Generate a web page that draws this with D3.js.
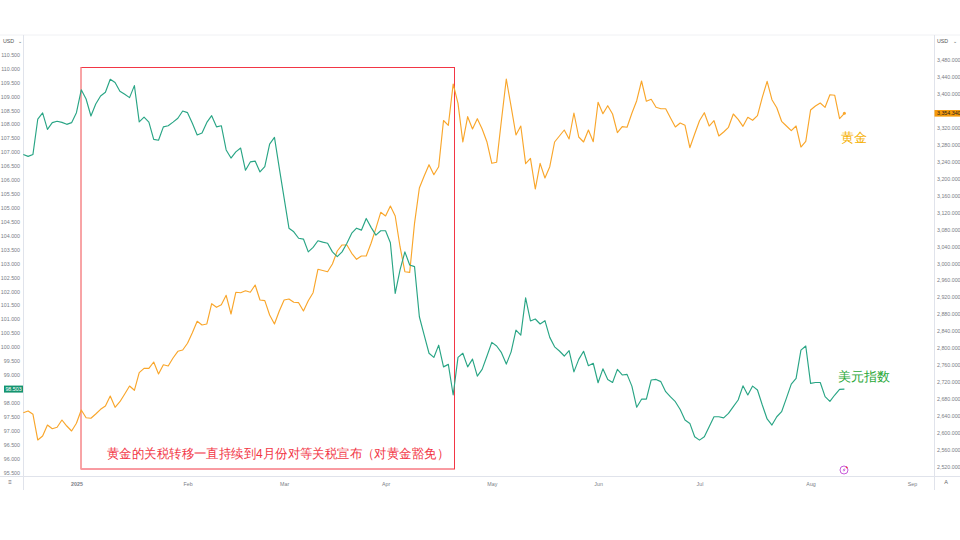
<!DOCTYPE html>
<html><head><meta charset="utf-8">
<script src="https://cdn.jsdelivr.net/npm/d3@7"></script>
<style>
html,body{margin:0;padding:0;background:#fff;}
svg{display:block;}
text{font-family:"Liberation Sans",Arial,sans-serif;}
</style></head>
<body>
<svg id="chart" width="960" height="540"></svg>
<script>
// ---------- data ----------
const startDate = "2024-12-17"; // first trading day shown
const dxyValues = [106.93,106.86,106.93,108.20,108.42,107.83,108.07,108.12,108.08,108.01,108.07,108.43,109.25,108.92,108.31,108.74,109.03,109.16,109.63,109.51,109.20,109.09,108.97,109.40,108.10,108.27,108.09,107.47,107.44,107.92,107.96,108.09,108.23,108.49,108.43,108.05,107.63,107.70,108.08,108.32,107.92,107.96,107.09,106.80,107.02,107.16,106.36,106.66,106.69,106.30,106.49,107.30,107.54,106.44,105.36,104.28,104.15,103.92,103.89,103.43,103.59,103.83,103.78,103.74,103.43,103.26,103.43,103.74,104.10,104.28,104.21,104.63,104.31,104.03,104.19,104.19,103.76,101.94,102.78,103.43,102.96,102.90,101.10,100.44,99.79,99.64,100.08,99.30,99.39,98.29,99.64,99.79,99.30,99.58,98.97,99.21,99.69,100.18,100.05,99.81,99.40,99.84,100.62,100.44,101.78,100.95,101.02,100.84,100.96,100.36,100.02,99.87,99.69,99.88,99.12,99.57,99.86,99.34,99.43,98.73,99.23,98.85,98.74,99.21,99.01,99.03,98.61,97.85,98.14,98.14,98.83,98.85,98.77,98.41,98.22,98.05,97.77,97.39,97.27,96.79,96.67,96.79,97.15,97.51,97.51,97.47,97.63,97.87,98.11,98.62,98.29,98.61,98.47,97.93,97.43,97.21,97.51,97.69,98.18,98.68,98.89,99.90,100.05,98.71,98.74,98.74,98.23,98.06,98.29,98.49,98.503];
const goldValues = [2648.7,2652.7,2644.9,2584.3,2593.8,2619.7,2611.0,2614.3,2631.5,2617.3,2605.6,2623.7,2655.0,2636.9,2635.5,2645.6,2656.7,2664.5,2688.0,2661.4,2674.6,2692.8,2711.6,2701.5,2743.0,2753.3,2753.3,2768.2,2739.9,2761.8,2758.8,2777.6,2793.4,2796.5,2812.3,2837.2,2864.1,2855.4,2857.8,2905.6,2897.1,2903.2,2925.4,2881.3,2932.5,2931.5,2936.2,2932.5,2949.7,2914.3,2912.7,2879.0,2857.8,2888.4,2914.3,2916.7,2908.9,2908.0,2888.4,2912.7,2931.5,2986.7,2983.9,2981.0,2999.2,3029.8,3044.0,3044.0,3024.4,3010.2,3018.0,3018.0,3048.0,3083.3,3121.0,3112.3,3135.9,3112.3,3039.9,2981.0,2979.6,3095.1,3178.3,3206.6,3233.2,3209.7,3228.5,3337.4,3326.1,3423.4,3377.9,3286.7,3346.4,3317.4,3341.6,3317.4,3286.7,3236.5,3238.9,3338.6,3435.2,3369.9,3303.2,3324.4,3235.6,3248.3,3175.9,3236.5,3201.9,3228.5,3286.7,3300.9,3315.0,3293.8,3355.1,3298.5,3286.7,3315.0,3287.4,3380.3,3353.4,3372.3,3352.7,3308.6,3322.8,3321.4,3354.4,3384.1,3430.5,3382.7,3387.4,3368.5,3365.2,3365.2,3343.3,3322.1,3331.5,3326.1,3273.3,3305.6,3336.9,3355.8,3324.4,3336.9,3300.9,3310.3,3321.4,3352.7,3340.2,3323.7,3344.9,3337.9,3348.7,3392.1,3429.8,3386.4,3367.6,3335.5,3324.4,3313.4,3324.4,3274.9,3288.4,3362.1,3371.6,3378.6,3368.5,3398.2,3396.8,3341.6,3354.34];
const leftTicks = d3.range(95.5, 110.51, 0.5);
const rightTicks = d3.range(2520, 3481, 40);
const axisEnd = "2025-09-05";
const seriesNames = {gold: "黄金", dxy: "美元指数"};
const noteText = "黄金的关税转移一直持续到4月份对等关税宣布（对黄金豁免）";
const boxRange = ["2025-01-02", "2025-04-21"];

// ---------- trading dates (weekdays) ----------
const parse = d3.timeParse("%Y-%m-%d");
const dates = [];
for (let d = parse(startDate); d <= parse(axisEnd); d = d3.timeDay.offset(d, 1)) {
  const w = d.getDay();
  if (w !== 0 && w !== 6) dates.push(d);
}
const idxOf = s => { const t = parse(s); return dates.findIndex(d => d >= t); };

// ---------- layout ----------
const svg = d3.select("#chart");
const W = 960, H = 540;
const plotL = 23.5, plotR = 934.5, plotT = 35, plotB = 476;
const colGold = "#f9a62b", colDxy = "#29a585", axisCol = "#e0e3eb", txtCol = "#7a7d86";

svg.append("rect").attr("width", W).attr("height", H).attr("fill", "#fff");

const x = d3.scaleLinear().domain([0, dxyValues.length - 1]).range([23.3, 844.4]);
const yL = d3.scaleLinear().domain([95.5, 110.5]).range([472.7, 55]);
const yR = d3.scaleLinear().domain([2520, 3480]).range([467.3, 60]);

// frame lines
svg.append("line").attr("x1", 0).attr("x2", W).attr("y1", plotT).attr("y2", plotT).attr("stroke", "#f0f1f4");
svg.append("line").attr("x1", plotL).attr("x2", plotL).attr("y1", plotT).attr("y2", 490).attr("stroke", axisCol);
svg.append("line").attr("x1", plotR).attr("x2", plotR).attr("y1", plotT).attr("y2", 490).attr("stroke", axisCol);
svg.append("line").attr("x1", 0).attr("x2", W).attr("y1", plotB + 0.5).attr("y2", plotB + 0.5).attr("stroke", axisCol);

// left axis
const fmtL = d3.format(".3f");
const lastD = dxyValues[dxyValues.length - 1];
const lastG = goldValues[goldValues.length - 1];
const gL = svg.append("g");
gL.selectAll("text").data(leftTicks.filter(v => Math.abs(yL(v) - yL(lastD)) > 6))
  .join("text").attr("x", 20).attr("y", d => yL(d)).attr("dy", "0.35em")
  .attr("text-anchor", "end").attr("font-size", 5.3).attr("fill", txtCol).text(d => fmtL(d));
svg.append("text").attr("x", 3).attr("y", 41).attr("dy", "0.35em").attr("font-size", 5.3).attr("fill", "#555").text("USD");
svg.append("text").attr("x", 18).attr("y", 41).attr("dy", "0.35em").attr("font-size", 5.3).attr("fill", "#555").text("⌄");

// right axis
const fmtR = d3.format(",.3f");
const gR = svg.append("g");
gR.selectAll("text").data(rightTicks.filter(v => Math.abs(yR(v) - yR(lastG)) > 6))
  .join("text").attr("x", 937).attr("y", d => yR(d)).attr("dy", "0.35em")
  .attr("font-size", 5.3).attr("fill", txtCol).text(d => fmtR(d));
svg.append("text").attr("x", 937).attr("y", 41).attr("dy", "0.35em").attr("font-size", 5.3).attr("fill", "#555").text("USD");
svg.append("text").attr("x", 953).attr("y", 41).attr("dy", "0.35em").attr("font-size", 5.3).attr("fill", "#555").text("⌄");

// x axis (month starts)
const monthStarts = d3.timeMonth.range(parse("2025-01-01"), parse(axisEnd));
const tickIdx = monthStarts.map(m => dates.findIndex(d => d >= m));
const fmtMonth = i => dates[i].getMonth() === 0 ? d3.timeFormat("%Y")(dates[i]) : d3.timeFormat("%b")(dates[i]);
const xAxis = d3.axisBottom(x).tickValues(tickIdx).tickFormat(fmtMonth).tickSize(0).tickPadding(6);
const gX = svg.append("g").attr("transform", `translate(0,${plotB})`).call(xAxis);
gX.select(".domain").remove();
gX.selectAll("text").attr("font-size", 5.3).attr("fill", txtCol).attr("font-family", "Liberation Sans, Arial, sans-serif")
  .attr("font-weight", (d) => dates[d].getMonth() === 0 ? "bold" : "normal");
svg.append("text").attr("x", 10).attr("y", 482).attr("dy", "0.35em").attr("text-anchor", "middle").attr("font-size", 6).attr("fill", "#666").text("≡");
svg.append("text").attr("x", 946).attr("y", 482).attr("dy", "0.35em").attr("text-anchor", "middle").attr("font-size", 5.5).attr("fill", "#666").text("A");

// annotation box
const bx0 = Math.round(x(idxOf(boxRange[0])));
const bx1 = Math.round(x(idxOf(boxRange[1]))) + 1.5;
const by0 = 67.5, by1 = 469;
svg.append("rect").attr("x", bx0).attr("y", by0).attr("width", bx1 - bx0).attr("height", by1 - by0)
  .attr("fill", "none").attr("stroke", "#f23645").attr("stroke-width", 1);
svg.append("line").attr("x1", bx0).attr("x2", bx0).attr("y1", by0).attr("y2", by1).attr("stroke", "#f8a8a8").attr("stroke-width", 1.6);

// lines
const lineG = d3.line().x((d, i) => x(i)).y(d => yR(d));
const lineD = d3.line().x((d, i) => x(i)).y(d => yL(d));
svg.append("path").datum(goldValues).attr("d", lineG).attr("fill", "none").attr("stroke", colGold).attr("stroke-width", 1.15).attr("stroke-linejoin", "round");
svg.append("path").datum(dxyValues).attr("d", lineD).attr("fill", "none").attr("stroke", colDxy).attr("stroke-width", 1.15).attr("stroke-linejoin", "round");
svg.append("circle").attr("cx", x(goldValues.length - 1)).attr("cy", yR(lastG)).attr("r", 1.5).attr("fill", colGold);

// price labels
svg.append("rect").attr("x", 4).attr("y", yL(lastD) - 3.5).attr("width", 19).attr("height", 7).attr("fill", "#14946f");
svg.append("text").attr("x", 13.5).attr("y", yL(lastD)).attr("dy", "0.35em").attr("text-anchor", "middle").attr("font-size", 5.3).attr("fill", "#fff").text(fmtL(lastD));
svg.append("rect").attr("x", 934.5).attr("y", yR(lastG) - 3.3).attr("width", 25.5).attr("height", 6.6).attr("fill", "#f59a0b");
svg.append("text").attr("x", 937).attr("y", yR(lastG)).attr("dy", "0.35em").attr("font-size", 5.3).attr("fill", "#222").text(fmtR(lastG));

// series labels
const cjk = '"Noto Sans CJK SC", sans-serif';
svg.append("text").attr("x", 841).attr("y", 142).attr("font-size", 12.5).attr("font-family", cjk).attr("fill", "#f5b000").text(seriesNames.gold);
svg.append("text").attr("x", 838).attr("y", 381).attr("font-size", 12.8).attr("font-family", cjk).attr("fill", "#2aa838").text(seriesNames.dxy);

// note
svg.append("text").attr("x", 278).attr("y", 458).attr("text-anchor", "middle").attr("font-size", 12.6).attr("font-family", cjk)
  .attr("textLength", 342).attr("lengthAdjust", "spacingAndGlyphs").attr("fill", "#f23645").text(noteText);

// small event icon
const ic = svg.append("g").attr("transform", "translate(844,470)");
ic.append("circle").attr("r", 4).attr("fill", "#fff").attr("stroke", "#c24ad6").attr("stroke-width", 0.9);
ic.append("path").attr("d", "M0.8,-2.6 L-1.4,0.4 L0.2,0.4 L-0.8,2.6 L1.6,-0.6 L0,-0.6 Z").attr("fill", "#c24ad6");
ic.append("circle").attr("cx", 2.6).attr("cy", -2.6).attr("r", 0.9).attr("fill", "#f23645");
</script>
</body></html>
